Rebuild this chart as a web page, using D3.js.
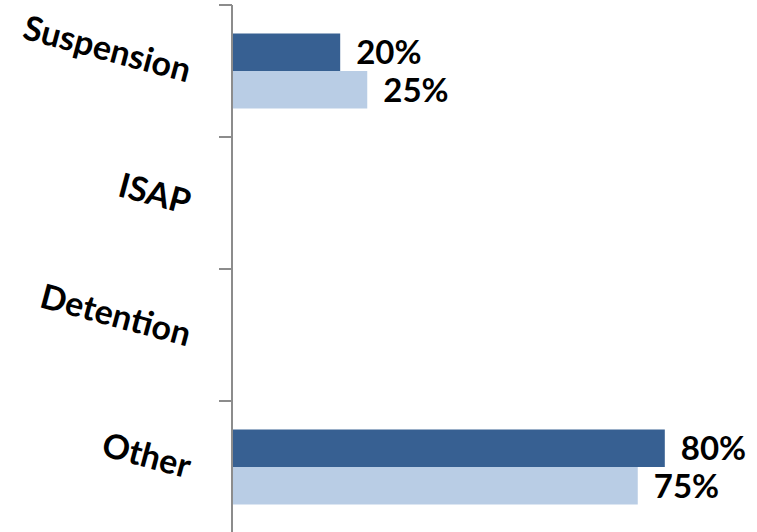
<!DOCTYPE html>
<html>
<head>
  <script src="https://d3js.org/d3.v7.min.js"></script>
  <style>
    body { margin: 0; background: #fff; }
    .cat-label { font-family: Lato, "Open Sans", sans-serif; font-weight: bold; font-size: 34px; fill: #000; }
    .val-label { font-family: Lato, "Open Sans", sans-serif; font-weight: bold; font-size: 33px; fill: #000; }
  </style>
</head>
<body>
  <div id="chart"></div>
  <script>
    // Data
    const categories = ["Suspension", "ISAP", "Detention", "Other"];
    const seriesNames = ["Series A", "Series B"];
    const seriesA = [20, null, null, 80];
    const seriesB = [25, null, null, 75];
    const colors = ["#376092", "#B9CDE5"];

    const width = 757, height = 532;
    const axisX = 232;

    const svg = d3.select("#chart")
      .append("svg")
      .attr("width", width)
      .attr("height", height);

    // band per category
    const y = d3.scaleBand()
      .domain(categories)
      .range([5, 533])
      .paddingInner(0)
      .paddingOuter(0);

    const inner = d3.scaleBand()
      .domain(seriesNames)
      .range([0, y.bandwidth()])
      .paddingOuter(0.76)
      .paddingInner(0);

    const x = d3.scaleLinear()
      .domain([0, 100])
      .range([axisX, axisX + 541]);

    const rows = [];
    categories.forEach((c, i) => {
      [seriesA, seriesB].forEach((s, j) => {
        if (s[i] != null) rows.push({ cat: c, series: seriesNames[j], value: s[i], color: colors[j] });
      });
    });

    // Bars
    svg.selectAll(".bar")
      .data(rows)
      .enter().append("rect")
      .attr("class", "bar")
      .attr("x", x(0))
      .attr("y", d => y(d.cat) + inner(d.series))
      .attr("width", d => x(d.value) - x(0))
      .attr("height", inner.bandwidth())
      .attr("fill", d => d.color);

    // Value labels
    svg.selectAll(".val-label")
      .data(rows)
      .enter().append("text")
      .attr("class", "val-label")
      .attr("x", d => x(d.value) + 16)
      .attr("y", d => y(d.cat) + inner(d.series) + inner.bandwidth() / 2)
      .attr("dy", "0.36em")
      .text(d => d.value + "%");

    // Axis line and ticks at band edges
    svg.append("line")
      .attr("x1", axisX).attr("x2", axisX)
      .attr("y1", y.range()[0]).attr("y2", y.range()[1])
      .attr("stroke", "#8c8c8c")
      .attr("stroke-width", 2);

    const tickYs = categories.map(c => y(c)).concat([y.range()[1]]);
    svg.selectAll(".tick")
      .data(tickYs)
      .enter().append("line")
      .attr("x1", axisX - 13).attr("x2", axisX)
      .attr("y1", d => d).attr("y2", d => d)
      .attr("stroke", "#8c8c8c")
      .attr("stroke-width", 2);

    // Category labels, rotated
    svg.selectAll(".cat-label")
      .data(categories)
      .enter().append("text")
      .attr("class", "cat-label")
      .attr("text-anchor", "end")
      .attr("dy", "0.35em")
      .attr("transform", d => `translate(190, ${y(d) + y.bandwidth() / 2}) rotate(15)`)
      .text(d => d);
  </script>
</body>
</html>
